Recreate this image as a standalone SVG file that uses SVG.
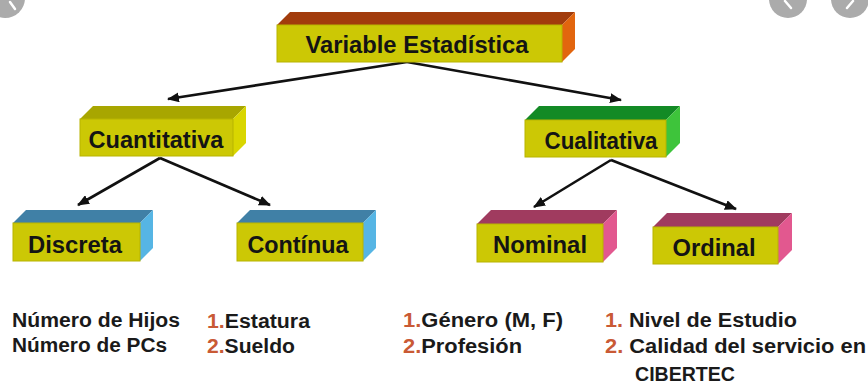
<svg xmlns="http://www.w3.org/2000/svg" width="868" height="389" viewBox="0 0 868 389">
  <style>
    .front { fill: #CCC805; stroke: #B8B400; stroke-width: 1; }
    .lbl { font-family: "Liberation Sans", Arial, sans-serif; font-weight: bold; font-size: 23px; fill: #141414; text-anchor: middle; }
    .txt { font-family: "Liberation Sans", Arial, sans-serif; font-weight: bold; font-size: 20px; fill: #1a1a1a; }
    .num { fill: #C95A35; }
    .conn { stroke: #111; stroke-width: 2.6; fill: none; marker-end: url(#arr); }
    .btn { fill: #ABABAB; }
    .chev { stroke: #fff; stroke-width: 2.5; fill: none; stroke-linecap: round; }
  </style>
  <defs>
    <marker id="arr" markerUnits="userSpaceOnUse" markerWidth="12" markerHeight="10" refX="11" refY="5" orient="auto">
      <path d="M0,0 L12,5 L0,10 Z" fill="#111"/>
    </marker>
  </defs>
  <rect width="868" height="389" fill="#fff"/>

  <g id="ui-buttons">
    <circle class="btn" cx="5" cy="-2" r="20"/>
    <path class="chev" d="M10,2 L15,9"/>
    <circle class="btn" cx="788" cy="-1" r="19"/>
    <path class="chev" d="M785,1 L791,8"/>
    <circle class="btn" cx="850" cy="-1" r="19"/>
    <path class="chev" d="M853,1 L847,8"/>
  </g>

  <g id="connectors">
    <line class="conn" x1="407" y1="62" x2="168" y2="99"/>
    <line class="conn" x1="407" y1="62" x2="621" y2="100"/>
    <line class="conn" x1="160" y1="158" x2="78" y2="205"/>
    <line class="conn" x1="160" y1="158" x2="270" y2="205"/>
    <line class="conn" x1="611" y1="160" x2="534" y2="207"/>
    <line class="conn" x1="611" y1="160" x2="736" y2="209"/>
  </g>

  <g id="variable-estadistica">
    <polygon points="277,25 290,12 575,12 562,25" fill="#A23C0C"/>
    <polygon points="562,25 575,12 575,49 562,62" fill="#E2650E"/>
    <rect class="front" x="277" y="25" width="285" height="37"/>
    <text class="lbl" x="417" y="53" textLength="223" lengthAdjust="spacingAndGlyphs">Variable Estadística</text>
  </g>

  <g id="cuantitativa">
    <polygon points="80,119 93,106 246,106 233,119" fill="#A8A600"/>
    <polygon points="233,119 246,106 246,143 233,156" fill="#D9D600"/>
    <rect class="front" x="80" y="119" width="153" height="37"/>
    <text class="lbl" x="156" y="148" textLength="135" lengthAdjust="spacingAndGlyphs">Cuantitativa</text>
  </g>

  <g id="cualitativa">
    <polygon points="525,120 539,106 680,106 666,120" fill="#138A25"/>
    <polygon points="666,120 680,106 680,143 666,157" fill="#3EC43B"/>
    <rect class="front" x="525" y="120" width="141" height="37"/>
    <text class="lbl" x="601" y="149" textLength="113" lengthAdjust="spacingAndGlyphs">Cualitativa</text>
  </g>

  <g id="discreta">
    <polygon points="13,223 26,210 153,210 140,223" fill="#4080A6"/>
    <polygon points="140,223 153,210 153,248 140,261" fill="#56B5E4"/>
    <rect class="front" x="13" y="223" width="127" height="38"/>
    <text class="lbl" x="75" y="253" textLength="94" lengthAdjust="spacingAndGlyphs">Discreta</text>
  </g>

  <g id="continua">
    <polygon points="237,223 250,210 376,210 363,223" fill="#4080A6"/>
    <polygon points="363,223 376,210 376,248 363,261" fill="#56B5E4"/>
    <rect class="front" x="237" y="223" width="126" height="38"/>
    <text class="lbl" x="298" y="253" textLength="101" lengthAdjust="spacingAndGlyphs">Contínua</text>
  </g>

  <g id="nominal">
    <polygon points="477,224 491,210 617,210 603,224" fill="#A03B5F"/>
    <polygon points="603,224 617,210 617,248 603,262" fill="#E2588F"/>
    <rect class="front" x="477" y="224" width="126" height="38"/>
    <text class="lbl" x="540" y="253" textLength="94" lengthAdjust="spacingAndGlyphs">Nominal</text>
  </g>

  <g id="ordinal">
    <polygon points="653,227 667,213 792,213 778,227" fill="#A03B5F"/>
    <polygon points="778,227 792,213 792,250 778,264" fill="#E2588F"/>
    <rect class="front" x="653" y="227" width="125" height="37"/>
    <text class="lbl" x="714" y="256" textLength="83" lengthAdjust="spacingAndGlyphs">Ordinal</text>
  </g>

  <g id="examples">
    <text class="txt" x="12" y="327" textLength="168" lengthAdjust="spacingAndGlyphs">Número de Hijos</text>
    <text class="txt" x="12" y="352" textLength="155" lengthAdjust="spacingAndGlyphs">Número de PCs</text>
    <text class="txt" x="207" y="328" textLength="103" lengthAdjust="spacingAndGlyphs"><tspan class="num">1.</tspan>Estatura</text>
    <text class="txt" x="207" y="353" textLength="88" lengthAdjust="spacingAndGlyphs"><tspan class="num">2.</tspan>Sueldo</text>
    <text class="txt" x="403" y="327" textLength="160" lengthAdjust="spacingAndGlyphs"><tspan class="num">1.</tspan>Género (M, F)</text>
    <text class="txt" x="403" y="353" textLength="119" lengthAdjust="spacingAndGlyphs"><tspan class="num">2.</tspan>Profesión</text>
    <text class="txt" x="605" y="327" textLength="192" lengthAdjust="spacingAndGlyphs"><tspan class="num">1.</tspan> Nivel de Estudio</text>
    <text class="txt" x="605" y="353" textLength="261" lengthAdjust="spacingAndGlyphs"><tspan class="num">2.</tspan> Calidad del servicio en</text>
    <text class="txt" x="635" y="381" textLength="100" lengthAdjust="spacingAndGlyphs">CIBERTEC</text>
  </g>
</svg>
